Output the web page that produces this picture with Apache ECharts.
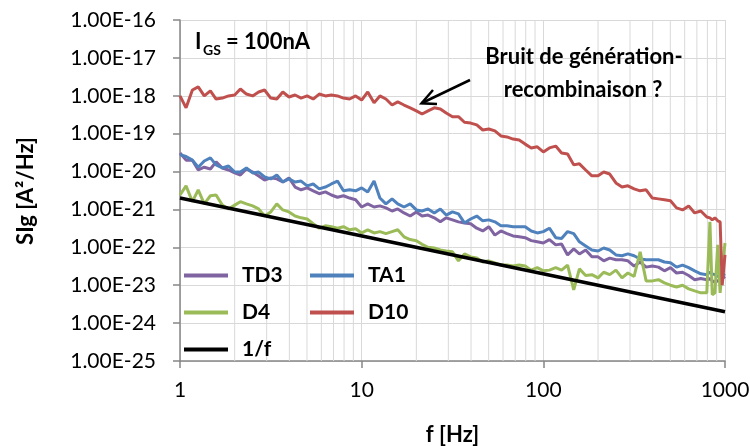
<!DOCTYPE html>
<html>
<head>
<meta charset="utf-8">
<script src="https://cdn.jsdelivr.net/npm/echarts@6/dist/echarts.min.js"></script>
<style>html,body{margin:0;padding:0;background:#fff}#c{width:750px;height:446px}</style>
</head>
<body>
<div id="c"></div>
<script>
// Frequencies [Hz]
const freq = [
  1, 1.08, 1.17, 1.26, 1.36, 1.47, 1.58, 1.71, 1.85, 2,
  2.15, 2.32, 2.51, 2.71, 2.92, 3.16, 3.41, 3.68, 3.98, 4.3,
  4.64, 5.01, 5.41, 5.84, 6.31, 6.81, 7.36, 7.94, 8.58, 9.26,
  10, 10.8, 11.7, 12.6, 13.6, 14.7, 15.8, 17.1, 18.5, 20,
  21.5, 23.2, 25.1, 27.1, 29.2, 31.6, 34.1, 36.8, 39.8, 43,
  46.4, 50.1, 54.1, 58.4, 63.1, 68.1, 73.6, 79.4, 85.8, 92.6,
  100, 108, 117, 126, 136, 147, 158, 171, 185, 200,
  215, 232, 251, 271, 292, 316, 341, 368, 398, 430,
  464, 501, 541, 584, 631, 681, 736, 794, 826, 851,
  880, 912, 940, 965, 1000
];
const TD3 = [
  3.1e-20, 2.0e-20, 2.0e-20, 1.1e-20, 1.3e-20, 1.17e-20, 1.8e-20, 1.24e-20, 1.1e-20, 9.2e-21,
  8.1e-21, 1.17e-20, 9.7e-21, 7.6e-21, 6.0e-21, 6.8e-21, 6.4e-21, 5.3e-21, 6.8e-21, 3.9e-21,
  3.3e-21, 3.7e-21, 3.1e-21, 2.6e-21, 2.9e-21, 2.4e-21, 2.1e-21, 2.3e-21, 2.0e-21, 1.8e-21,
  1.16e-21, 1.4e-21, 1.16e-21, 1.24e-21, 1.1e-21, 9.1e-22, 1.03e-21, 8.1e-22, 6.7e-22, 8.6e-22,
  6.7e-22, 7.1e-22, 6.0e-22, 4.7e-22, 6.0e-22, 5.3e-22, 4.7e-22, 4.4e-22, 4.2e-22, 3.2e-22,
  2.7e-22, 3.5e-22, 2.1e-22, 2.7e-22, 2.3e-22, 2.0e-22, 1.9e-22, 1.8e-22, 1.5e-22, 1.4e-22,
  1.3e-22, 1.6e-22, 1.16e-22, 1.23e-22, 6.3e-23, 9.1e-23, 6.7e-23, 8.5e-23, 5.6e-23, 5.6e-23,
  4.4e-23, 5.2e-23, 4.7e-23, 4.7e-23, 4.4e-23, 3.2e-23, 4.1e-23, 3.0e-23, 3.2e-23, 3.0e-23,
  2.4e-23, 2.9e-23, 2.1e-23, 2.2e-23, 1.8e-23, 1.4e-23, 1.5e-23, 1.4e-23, 1.5e-23, 1.3e-23,
  1.2e-23, 1.3e-23, 1.4e-23, 1.5e-23, 1.7e-23
];
const TA1 = [
  2.8e-20, 2.5e-20, 2.0e-20, 1.3e-20, 1.9e-20, 2.3e-20, 1.5e-20, 1.24e-20, 1.4e-20, 9.7e-21,
  9.7e-21, 1.24e-20, 9.2e-21, 9.7e-21, 7.2e-21, 6.4e-21, 8.1e-21, 5.3e-21, 6.4e-21, 5.3e-21,
  5.6e-21, 4.2e-21, 4.7e-21, 3.5e-21, 3.9e-21, 4.7e-21, 5.6e-21, 3.1e-21, 3.3e-21, 3.1e-21,
  3.7e-21, 2.9e-21, 5.6e-21, 2.0e-21, 1.4e-21, 1.9e-21, 1.4e-21, 1.16e-21, 1.4e-21, 9.7e-22,
  9.1e-22, 1.03e-21, 8.1e-22, 1.03e-21, 7.1e-22, 8.6e-22, 7.6e-22, 4.4e-22, 5.6e-22, 6.7e-22,
  5.0e-22, 5.3e-22, 4.7e-22, 3.7e-22, 3.7e-22, 3.5e-22, 3.5e-22, 3.5e-22, 2.7e-22, 2.4e-22,
  2.6e-22, 3.2e-22, 1.8e-22, 1.7e-22, 2.6e-22, 2.3e-22, 1.4e-22, 1.09e-22, 8.5e-23, 8.0e-23,
  9.6e-23, 8.5e-23, 6.3e-23, 6.0e-23, 6.7e-23, 6.0e-23, 4.9e-23, 4.7e-23, 4.7e-23, 4.7e-23,
  4.1e-23, 3.9e-23, 3.0e-23, 3.4e-23, 2.9e-23, 2.4e-23, 2.0e-23, 1.9e-23, 2.2e-23, 2.0e-23,
  1.9e-23, 1.7e-23, 1.8e-23, 1.8e-23, 2.0e-23
];
const D4 = [
  2.4e-21, 4.2e-21, 1.6e-21, 3.3e-21, 1.4e-21, 2.3e-21, 2.4e-21, 1.3e-21, 1.03e-21, 1.3e-21,
  1.6e-21, 1.4e-21, 1.24e-21, 1.03e-21, 6.7e-22, 8.6e-22, 1.4e-21, 9.7e-22, 8.6e-22, 6.7e-22,
  6.0e-22, 5.6e-22, 4.2e-22, 3.2e-22, 3.7e-22, 3.5e-22, 3.2e-22, 3.5e-22, 2.9e-22, 3.1e-22,
  2.4e-22, 2.9e-22, 2.4e-22, 2.6e-22, 2.3e-22, 2.6e-22, 2.9e-22, 1.9e-22, 1.6e-22, 1.5e-22,
  1.2e-22, 1.0e-22, 9.6e-23, 8.5e-23, 8.0e-23, 7.6e-23, 4.4e-23, 6.7e-23, 5.6e-23, 5.2e-23,
  4.1e-23, 4.4e-23, 3.9e-23, 3.4e-23, 3.4e-23, 3.2e-23, 3.4e-23, 3.2e-23, 2.5e-23, 2.9e-23,
  2.4e-23, 2.5e-23, 2.9e-23, 2.5e-23, 3.4e-23, 7.5e-24, 2.7e-23, 1.8e-23, 1.9e-23, 1.56e-23,
  2.2e-23, 1.9e-23, 2.5e-23, 1.56e-23, 2.1e-23, 1.7e-23, 7.6e-23, 1.3e-23, 1.3e-23, 1.4e-23,
  1.15e-23, 1.0e-23, 9.0e-24, 1.0e-23, 8.0e-24, 7.1e-24, 6.3e-24, 6.3e-24, 4.7e-22, 5.6e-24,
  6.3e-24, 1.16e-22, 6.3e-24, 2.5e-23, 1.3e-22
];
const D10 = [
  9.9e-19, 4.8e-19, 1.42e-18, 1.71e-18, 9.9e-19, 1.34e-18, 8.2e-19, 8.7e-19, 9.9e-19, 1.05e-18,
  1.51e-18, 1.11e-18, 9.9e-19, 1.26e-18, 1.42e-18, 8.7e-19, 8.2e-19, 1.26e-18, 9.3e-19, 1.05e-18,
  8.7e-19, 9.9e-19, 8.2e-19, 1.11e-18, 9.9e-19, 1.05e-18, 9.9e-19, 8.7e-19, 8.2e-19, 9.9e-19,
  7.7e-19, 1.26e-18, 6.5e-19, 9.9e-19, 8.2e-19, 5.7e-19, 6.9e-19, 5.7e-19, 4.8e-19, 4.0e-19,
  3.3e-19, 4.0e-19, 4.8e-19, 4.5e-19, 3.5e-19, 2.8e-19, 2.8e-19, 2.0e-19, 1.9e-19, 1.7e-19,
  1.25e-19, 1.33e-19, 1.18e-19, 8.7e-20, 8.2e-20, 7.2e-20, 6.8e-20, 5.3e-20, 4.2e-20, 4.5e-20,
  3.3e-20, 4.2e-20, 4.7e-20, 3.1e-20, 2.9e-20, 1.5e-20, 1.6e-20, 1.1e-20, 7.7e-21, 7.7e-21,
  9.7e-21, 8.6e-21, 5.0e-21, 3.9e-21, 4.2e-21, 3.5e-21, 3.1e-21, 3.3e-21, 2.0e-21, 1.9e-21,
  1.8e-21, 1.7e-21, 1.1e-21, 9.7e-22, 1.24e-21, 8.1e-22, 9.1e-22, 6.3e-22, 6.0e-22, 5.3e-22,
  6.0e-22, 5.0e-22, 4.7e-22, 1.0e-23, 6.3e-23
];
// 1/f reference line
const invF_x = [1, 1000];
const invF_y = [2e-21, 2e-24];
// minor vertical grid positions
const minorGrid = [2,3,4,5,6,7,8,9,20,30,40,50,60,70,80,90,200,300,400,500,600,700,800,900];

const names = ['TD3', 'TA1', 'D4', 'D10', '1/f'];
const colors = ['#8064A2', '#4F81BD', '#9BBB59', '#C0504D', '#000000'];
const values = [TD3, TA1, D4, D10];

const FONT = 'Lato, "Liberation Sans", sans-serif';
const pair = (xs, ys) => xs.map((x, i) => [x, ys[i]]);
const Y_MIN = 9.99e-26, Y_MAX = 1e-16;

const series = [{
  type: 'custom', name: 'grid', z: 1, silent: true,
  data: minorGrid.map(f => [f, 1e-20]),
  renderItem: (params, api) => {
    const p1 = api.coord([api.value(0), Y_MIN]);
    const p2 = api.coord([api.value(0), Y_MAX]);
    return { type: 'line', shape: { x1: p1[0], y1: p1[1], x2: p2[0], y2: p2[1] },
      style: { stroke: '#D9D9D9', lineWidth: 1 } };
  }
}];
values.forEach((v, k) => series.push({
  type: 'line', name: names[k], data: pair(freq, v), showSymbol: false, symbol: 'none',
  lineStyle: { color: colors[k], width: 3 }, itemStyle: { color: colors[k] }, z: 3
}));
series.push({
  type: 'line', name: '1/f', data: pair(invF_x, invF_y), showSymbol: false, symbol: 'none',
  lineStyle: { color: '#000', width: 3.5 }, itemStyle: { color: '#000' }, z: 4
});

const legendPos = [[184, 265], [310, 265], [184, 302], [310, 302], [184, 339]];
const legends = names.map((n, k) => ({
  data: [n], left: legendPos[k][0], top: legendPos[k][1], padding: 0,
  icon: 'rect', itemWidth: 44, itemHeight: 4, selectedMode: false,
  textStyle: { fontFamily: FONT, fontWeight: 'bold', fontSize: 21, color: '#000', padding: [0, 0, 0, 9] }
}));

const chart = echarts.init(document.getElementById('c'), null, { renderer: 'canvas' });
chart.setOption({
  animation: false,
  backgroundColor: '#fff',
  grid: { left: 180, right: 25, top: 20, bottom: 85, containLabel: false, outerBoundsMode: 'none' },
  legend: legends,
  xAxis: {
    type: 'log', logBase: 10, min: 1, max: 1000, splitNumber: 3,
    name: 'f [Hz]', nameLocation: 'middle', nameGap: 63,
    nameTextStyle: { fontFamily: FONT, fontWeight: 'bold', fontSize: 22, color: '#000' },
    axisLine: { lineStyle: { color: '#868686', width: 1.5 } },
    axisTick: { show: true, length: 7, lineStyle: { color: '#868686', width: 1.5 } },
    axisLabel: { fontFamily: FONT, fontSize: 21, color: '#000', margin: 19,
      showMinLabel: true, showMaxLabel: true, hideOverlap: false,
      formatter: v => String(Math.round(v)) },
    splitLine: { show: true, lineStyle: { color: '#D9D9D9', width: 1 } }
  },
  yAxis: {
    type: 'log', logBase: 10, min: Y_MIN, max: Y_MAX, splitNumber: 9,
    axisLine: { show: true, lineStyle: { color: '#868686', width: 1.5 } },
    axisTick: { show: true, length: 7, lineStyle: { color: '#868686', width: 1.5 } },
    axisLabel: { fontFamily: FONT, fontSize: 21, color: '#000', margin: 24,
      showMinLabel: true, showMaxLabel: true, hideOverlap: false,
      formatter: v => Number(v).toExponential(2).toUpperCase() },
    splitLine: { show: true, lineStyle: { color: '#D9D9D9', width: 1 } }
  },
  series: series,
  graphic: [
    { type: 'text', z: 100, x: 26, y: 191, rotation: Math.PI / 2, style: { text: 'SIg [A²/Hz]', font: 'bold 22px ' + FONT, fill: '#000', textAlign: 'center', textVerticalAlign: 'middle' } },
    { type: 'text', z: 100, left: 195, top: 31, style: { text: 'I', font: 'bold 22px ' + FONT, fill: '#000' } },
    { type: 'text', z: 100, left: 203, top: 43, style: { text: 'GS', font: 'bold 14px ' + FONT, fill: '#000' } },
    { type: 'text', z: 100, left: 226, top: 31, style: { text: '= 100nA', font: 'bold 22px ' + FONT, fill: '#000' } },
    { type: 'text', z: 100, x: 584, y: 57, style: { text: 'Bruit de génération-', font: 'bold 22px ' + FONT, fill: '#000', textAlign: 'center', textVerticalAlign: 'middle' } },
    { type: 'text', z: 100, x: 583, y: 90, style: { text: 'recombinaison ?', font: 'bold 22px ' + FONT, fill: '#000', textAlign: 'center', textVerticalAlign: 'middle' } },
    { type: 'line', z: 100, shape: { x1: 470, y1: 80, x2: 422, y2: 103 }, style: { stroke: '#000', lineWidth: 2.5 } },
    { type: 'polyline', z: 100, shape: { points: [[433, 90], [421.5, 103.3], [437, 104]] }, style: { stroke: '#000', lineWidth: 2.5, fill: null } }
  ]
});
</script>
</body>
</html>
